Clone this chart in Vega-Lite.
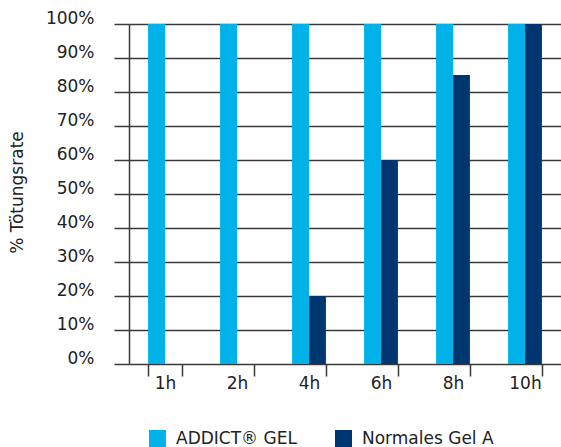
{
  "$schema": "https://vega.github.io/schema/vega-lite/v6.json",
  "autosize": "none",
  "width": 432,
  "height": 340,
  "padding": {"left": 129, "top": 24, "right": 0, "bottom": 83},
  "background": "white",
  "config": {
    "font": "DejaVu Sans",
    "view": {"stroke": null}
  },
  "data": {
    "values": [
      {"time": "1h", "series": "ADDICT® GEL", "rate": 1.0},
      {"time": "1h", "series": "Normales Gel A", "rate": 0.0},
      {"time": "2h", "series": "ADDICT® GEL", "rate": 1.0},
      {"time": "2h", "series": "Normales Gel A", "rate": 0.0},
      {"time": "4h", "series": "ADDICT® GEL", "rate": 1.0},
      {"time": "4h", "series": "Normales Gel A", "rate": 0.2},
      {"time": "6h", "series": "ADDICT® GEL", "rate": 1.0},
      {"time": "6h", "series": "Normales Gel A", "rate": 0.6},
      {"time": "8h", "series": "ADDICT® GEL", "rate": 1.0},
      {"time": "8h", "series": "Normales Gel A", "rate": 0.85},
      {"time": "10h", "series": "ADDICT® GEL", "rate": 1.0},
      {"time": "10h", "series": "Normales Gel A", "rate": 1.0}
    ]
  },
  "mark": {"type": "bar"},
  "encoding": {
    "x": {
      "field": "time",
      "type": "nominal",
      "sort": ["1h", "2h", "4h", "6h", "8h", "10h"],
      "scale": {"paddingInner": 0.53, "paddingOuter": 0.265},
      "axis": {
        "title": null,
        "labelAngle": 0,
        "domain": false,
        "tickBand": "extent",
        "tickSize": 12,
        "tickColor": "#3a3a3a",
        "tickWidth": 1.5,
        "labelPadding": -1,
        "labelFontSize": 17,
        "labelFontWeight": "normal",
        "labelColor": "#222222",
        "labelBaseline": "top"
      }
    },
    "xOffset": {"field": "series", "type": "nominal", "scale": {"paddingInner": 0, "paddingOuter": 0}},
    "y": {
      "field": "rate",
      "type": "quantitative",
      "scale": {"domain": [0, 1], "nice": false},
      "axis": {
        "title": "% Tötungsrate",
        "titleFontSize": 17,
        "titleFontWeight": "normal",
        "titleColor": "#222222",
        "titleAngle": -90,
        "titleX": -112,
        "titleY": 168,
        "titleAlign": "center",
        "titleBaseline": "middle",
        "values": [0, 0.1, 0.2, 0.3, 0.4, 0.5, 0.6, 0.7, 0.8, 0.9, 1.0],
        "format": ".0%",
        "grid": true,
        "gridColor": "#3a3a3a",
        "gridWidth": 1.5,
        "gridOpacity": 1,
        "domain": true,
        "domainColor": "#3a3a3a",
        "domainWidth": 1.5,
        "ticks": true,
        "tickSize": 15,
        "tickColor": "#3a3a3a",
        "tickWidth": 1.5,
        "labelPadding": 20,
        "labelFontSize": 17,
        "labelFontWeight": "normal",
        "labelColor": "#222222",
        "labelBaseline": "alphabetic",
        "labelOffset": -1
      }
    },
    "color": {
      "field": "series",
      "type": "nominal",
      "scale": {"domain": ["ADDICT® GEL", "Normales Gel A"], "range": ["#00B1EA", "#00366F"]},
      "legend": {
        "title": null,
        "orient": "none",
        "direction": "horizontal",
        "legendX": 20,
        "legendY": 406,
        "symbolType": "square",
        "symbolSize": 289,
        "symbolStrokeWidth": 0,
        "symbolOpacity": 1,
        "labelFontSize": 17,
        "labelFontWeight": "normal",
        "labelColor": "#222222",
        "labelOffset": 10,
        "columnPadding": 38,
        "labelLimit": 300
      }
    }
  }
}
